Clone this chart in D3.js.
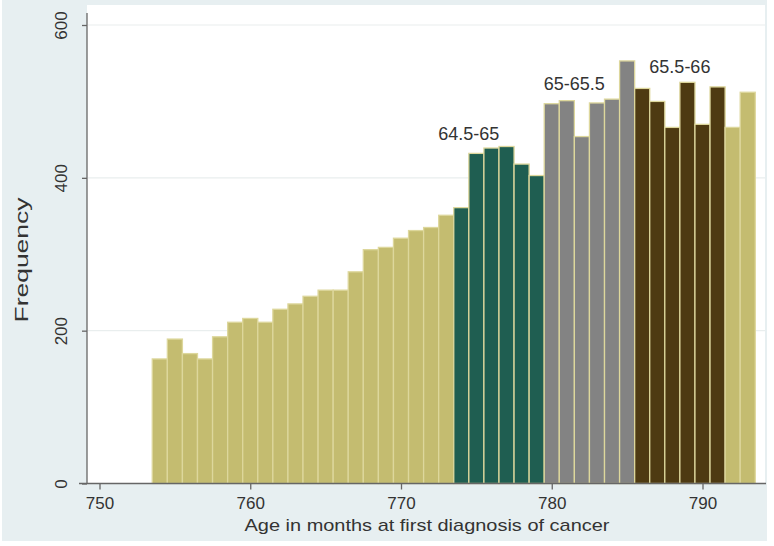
<!DOCTYPE html>
<html>
<head>
<meta charset="utf-8">
<script src="https://cdn.jsdelivr.net/npm/d3@7"></script>
<style>
body{margin:0;background:#fff;}
text{font-family:"Liberation Sans",Arial,sans-serif;fill:#333;}
</style>
</head>
<body>
<script>
var width = 774;
var height = 546;

// age in months (bar centres) and counts
var months = [754,755,756,757,758,759,760,761,762,763,764,765,766,767,768,769,770,771,772,773,
774,775,776,777,778,779,780,781,782,783,784,785,786,787,788,789,790,791,792,793];
var freq = [163,189,170,163,192,211,216,211,228,235,245,253,253,277,306,309,321,331,335,351,
361,432,439,441,418,403,497,501,454,498,503,553,517,500,466,525,470,519,466,512];
// which age band each bar belongs to
var groups = ["base","base","base","base","base","base","base","base","base","base",
"base","base","base","base","base","base","base","base","base","base",
"g1","g1","g1","g1","g1","g1","g2","g2","g2","g2","g2","g2",
"g3","g3","g3","g3","g3","g3","base","base"];

var xTicks = [750,760,770,780,790];
var yTicks = [0,200,400,600];

var bandLabels = ["64.5-65","65-65.5","65.5-66"];
var bandLabelX = [774.5,781.5,788.5];
var bandLabelY = [450,515,537];

var colors = {base:"#c4bc70",g1:"#1f5e51",g2:"#838383",g3:"#4e3a12"};

var xScale = d3.scaleLinear()
.domain([750,790])
.range([99.5,702.5]);

var yScale = d3.scaleLinear()
.domain([0,600])
.range([483.5,25]);

var svg = d3.select("body")
.append("svg")
.attr("width",width)
.attr("height",height);

// outer graph region
svg.append("rect")
.attr("x",2)
.attr("y",0)
.attr("width",765)
.attr("height",541)
.attr("fill","#e7eff1");

// plot region
svg.append("rect")
.attr("x",87)
.attr("y",5)
.attr("width",678)
.attr("height",478)
.attr("fill","#ffffff");

svg.selectAll(".grid")
.data(yTicks.slice(1))
.enter()
.append("line")
.attr("class","grid")
.attr("x1",88)
.attr("x2",765)
.attr("y1",function(d){return yScale(d);})
.attr("y2",function(d){return yScale(d);})
.attr("stroke","#e9eeee")
.attr("stroke-width",1.2);

var bars = months.map(function(m,i){
	return {m:m,f:freq[i],g:groups[i]};
});

svg.selectAll(".bar")
.data(bars)
.enter()
.append("rect")
.attr("class","bar")
.attr("x",function(d){return xScale(d.m - 0.5);})
.attr("width",function(d){return xScale(d.m + 0.5) - xScale(d.m - 0.5);})
.attr("y",function(d){return yScale(d.f);})
.attr("height",function(d){return yScale(0) - yScale(d.f);})
.attr("fill",function(d){return colors[d.g];})
.attr("stroke","#ddd79c")
.attr("stroke-width",1.3);

var xAxis = d3.axisBottom(xScale)
.tickValues(xTicks)
.tickSize(6)
.tickSizeOuter(0);

var yAxis = d3.axisLeft(yScale)
.tickValues(yTicks)
.tickSize(5)
.tickSizeOuter(0);

var gx = svg.append("g")
.attr("class","axis")
.attr("transform","translate(0," + 483.5 + ")")
.call(xAxis);

gx.select(".domain").remove();
gx.append("line")
.attr("x1",79)
.attr("x2",766)
.attr("y1",0)
.attr("y2",0)
.attr("stroke","#666")
.attr("stroke-width",1.3);

gx.selectAll(".tick line").attr("stroke","#666").attr("stroke-width",1.3);
gx.selectAll(".tick text")
.attr("font-size","17px")
.attr("fill","#333")
.attr("dy",0)
.attr("y",25);

var gy = svg.append("g")
.attr("class","axis")
.attr("transform","translate(" + 87 + ",0)")
.call(yAxis);

gy.select(".domain").remove();
gy.append("line")
.attr("x1",0)
.attr("x2",0)
.attr("y1",13)
.attr("y2",484)
.attr("stroke","#666")
.attr("stroke-width",1.3);

gy.selectAll(".tick line").attr("stroke","#666").attr("stroke-width",1.3);
gy.selectAll(".tick text")
.attr("font-size","17px")
.attr("fill","#333")
.attr("text-anchor","middle")
.attr("x",0)
.attr("y",0)
.attr("dy",0)
.attr("transform","translate(-20,0) rotate(-90)");

svg.append("text")
.attr("text-anchor","middle")
.attr("font-size","18px")
.attr("transform","translate(28,260) rotate(-90)")
.attr("textLength",125)
.attr("lengthAdjust","spacingAndGlyphs")
.text("Frequency");

svg.append("text")
.attr("x",427)
.attr("y",531)
.attr("text-anchor","middle")
.attr("font-size","17px")
.attr("textLength",365)
.attr("lengthAdjust","spacingAndGlyphs")
.text("Age in months at first diagnosis of cancer");

svg.selectAll(".band")
.data(bandLabels)
.enter()
.append("text")
.attr("class","band")
.attr("x",function(d,i){return xScale(bandLabelX[i]);})
.attr("y",function(d,i){return yScale(bandLabelY[i]);})
.attr("text-anchor","middle")
.attr("font-size","18px")
.attr("fill","#333")
.text(function(d){return d;});
</script>
</body>
</html>
